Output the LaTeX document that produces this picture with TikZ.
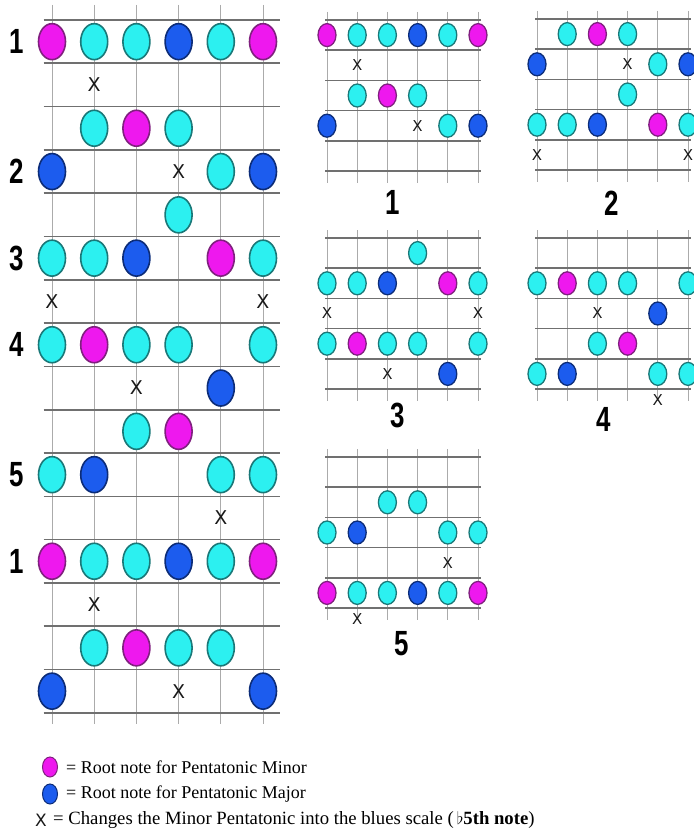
\documentclass[tikz,border=0pt]{standalone}
\usepackage{fontspec}
\setmainfont{Liberation Serif}
\newfontfamily\numfont[FakeStretch=0.74]{Liberation Sans}
\newfontfamily\xfont{DejaVu Sans}
\usetikzlibrary{shapes.geometric}

\definecolor{notecyan}{HTML}{2CF0F0}
\definecolor{cyanedge}{HTML}{1A7878}
\definecolor{notemag}{HTML}{EE18EE}
\definecolor{magedge}{HTML}{80207F}
\definecolor{noteblue}{HTML}{1C5CEE}
\definecolor{blueedge}{HTML}{0C2C78}
\definecolor{fretgray}{HTML}{707070}
\definecolor{stringgray}{HTML}{ABABAB}

\tikzset{
  fret/.style={fretgray, line width=1.6pt},
  string/.style={stringgray, line width=0.8pt},
  note/.style={ellipse, inner sep=0pt, line width=1.6pt},
  bignote/.style={note, minimum width=27pt, minimum height=36pt},
  smallnote/.style={note, minimum width=18pt, minimum height=23pt, line width=1.3pt},
  keynote/.style={note, minimum width=15pt, minimum height=20pt, line width=1pt},
  cy/.style={fill=notecyan, draw=cyanedge},
  mg/.style={fill=notemag, draw=magedge},
  bl/.style={fill=noteblue, draw=blueedge},
  bigx/.style={font=\xfont\fontsize{19}{19}\selectfont, text=black!90, inner sep=0pt},
  smallx/.style={font=\xfont\fontsize{15}{15}\selectfont, text=black!90, inner sep=0pt},
  numlbl/.style={font=\numfont\bfseries\fontsize{35}{35}\selectfont, inner sep=0pt},
  keytxt/.style={font=\fontsize{18}{18}\selectfont, anchor=west, inner sep=0pt}
}

\begin{document}
\begin{tikzpicture}[x=1pt, y=-1pt]
  \fill[white] (0,0) rectangle (693,837);
  \useasboundingbox (0,0) rectangle (693,837);

  % 大图
  \begin{scope}[shift={(9.8,20)}, x=42.2pt, y=-43.3pt]
    \foreach \c in {1,...,6} \draw[string] (\c,-0.35) -- (\c,16.25);
    \foreach \k in {0,...,16} \draw[fret] (0.8,\k) -- (6.4,\k);
    % 把位编号
    \foreach \r/\t in {0/1, 3/2, 5/3, 7/4, 10/5, 12/1}
      \node[numlbl] (pos-\r) at (0.17,\r+0.5) {\t};
    % 音符
    \foreach \c/\r in {2/0,3/0,5/0,2/2,4/2,5/3,4/4,1/5,2/5,6/5,1/7,3/7,4/7,6/7,3/9,1/10,5/10,6/10,2/12,3/12,5/12,2/14,4/14,5/14}
      \node[bignote, cy] (bc-\c-\r) at (\c,\r+0.5) {};
    \foreach \c/\r in {1/0,6/0,3/2,5/5,2/7,4/9,1/12,6/12,3/14}
      \node[bignote, mg] (bm-\c-\r) at (\c,\r+0.5) {};
    \foreach \c/\r in {4/0,1/3,6/3,3/5,5/8,2/10,4/12,1/15,6/15}
      \node[bignote, bl] (bb-\c-\r) at (\c,\r+0.5) {};
    \foreach \c/\r in {2/1,4/3,1/6,6/6,3/8,5/11,2/13,4/15}
      \node[bigx] (bx-\c-\r) at (\c,\r+0.5) {X};
  \end{scope}

  % 小图的网格
  \foreach \gx/\gy in {327/20, 537/19, 327/238, 537/238, 327/457} {
    \foreach \c in {0,...,5} \draw[string] (\gx+\c*30.2,\gy-8) -- (\gx+\c*30.2,\gy+163);
    \foreach \k in {0,...,5} \draw[fret] (\gx-2,\gy+\k*30.2) -- (\gx+154,\gy+\k*30.2);
  }

  % 小图 1
  \begin{scope}[shift={(296.8,20)}, x=30.2pt, y=-30.2pt]
    \foreach \c/\r in {2/0,3/0,5/0,2/2,4/2,5/3}
      \node[smallnote, cy] (ac-\c-\r) at (\c,\r+0.5) {};
    \foreach \c/\r in {1/0,6/0,3/2}
      \node[smallnote, mg] (am-\c-\r) at (\c,\r+0.5) {};
    \foreach \c/\r in {4/0,1/3,6/3}
      \node[smallnote, bl] (ab-\c-\r) at (\c,\r+0.5) {};
    \foreach \c/\r in {2/1,4/3}
      \node[smallx] (ax-\c-\r) at (\c,\r+0.5) {X};
  \end{scope}
  \node[numlbl] (box-1) at (393,202) {1};

  % 小图 2
  \begin{scope}[shift={(506.8,19)}, x=30.2pt, y=-30.2pt]
    \foreach \c/\r in {2/0,4/0,5/1,4/2,1/3,2/3,6/3}
      \node[smallnote, cy] (cc-\c-\r) at (\c,\r+0.5) {};
    \foreach \c/\r in {3/0,5/3}
      \node[smallnote, mg] (cm-\c-\r) at (\c,\r+0.5) {};
    \foreach \c/\r in {1/1,6/1,3/3}
      \node[smallnote, bl] (cb-\c-\r) at (\c,\r+0.5) {};
    \foreach \c/\r in {4/1,1/4,6/4}
      \node[smallx] (cx-\c-\r) at (\c,\r+0.5) {X};
  \end{scope}
  \node[numlbl] (box-2) at (612,203) {2};

  % 小图 3
  \begin{scope}[shift={(296.8,238)}, x=30.2pt, y=-30.2pt]
    \foreach \c/\r in {4/0,1/1,2/1,6/1,1/3,3/3,4/3,6/3}
      \node[smallnote, cy] (dc-\c-\r) at (\c,\r+0.5) {};
    \foreach \c/\r in {5/1,2/3}
      \node[smallnote, mg] (dm-\c-\r) at (\c,\r+0.5) {};
    \foreach \c/\r in {3/1,5/4}
      \node[smallnote, bl] (db-\c-\r) at (\c,\r+0.5) {};
    \foreach \c/\r in {1/2,6/2,3/4}
      \node[smallx] (dx-\c-\r) at (\c,\r+0.5) {X};
  \end{scope}
  \node[numlbl] (box-3) at (398,415) {3};

  % 小图 4
  \begin{scope}[shift={(506.8,238)}, x=30.2pt, y=-30.2pt]
    \foreach \c/\r in {1/1,3/1,4/1,6/1,3/3,1/4,5/4,6/4}
      \node[smallnote, cy] (ec-\c-\r) at (\c,\r+0.5) {};
    \foreach \c/\r in {2/1,4/3}
      \node[smallnote, mg] (em-\c-\r) at (\c,\r+0.5) {};
    \foreach \c/\r in {5/2,2/4}
      \node[smallnote, bl] (eb-\c-\r) at (\c,\r+0.5) {};
    \foreach \c/\r in {3/2}
      \node[smallx] (ex-\c-\r) at (\c,\r+0.5) {X};
    \node[smallx] (ex-5-5) at (5,5.35) {X};
  \end{scope}
  \node[numlbl] (box-4) at (604,419) {4};

  % 小图 5
  \begin{scope}[shift={(296.8,457)}, x=30.2pt, y=-30.2pt]
    \foreach \c/\r in {3/1,4/1,1/2,5/2,6/2,2/4,3/4,5/4}
      \node[smallnote, cy] (fc-\c-\r) at (\c,\r+0.5) {};
    \foreach \c/\r in {1/4,6/4}
      \node[smallnote, mg] (fm-\c-\r) at (\c,\r+0.5) {};
    \foreach \c/\r in {2/2,4/4}
      \node[smallnote, bl] (fb-\c-\r) at (\c,\r+0.5) {};
    \foreach \c/\r in {5/3}
      \node[smallx] (fx-\c-\r) at (\c,\r+0.5) {X};
    \node[smallx] (fx-2-5) at (2,5.35) {X};
  \end{scope}
  \node[numlbl] (box-5) at (402,644) {5};

  % 图例
  \node[keynote, mg] (keymin) at (50,767) {};
  \node[keytxt] (keymintxt) at (66,767) {= Root note for Pentatonic Minor};
  \node[keynote, bl] (keymaj) at (50,794) {};
  \node[keytxt] (keymajtxt) at (66,794) {= Root note for Pentatonic Major};
  \node[bigx, font=\xfont\fontsize{17}{17}\selectfont] (keyx) at (41,820) {X};
  \node[keytxt, font=\fontsize{18.7}{18.7}\selectfont] (keyxtxt) at (53,820) {= Changes the Minor Pentatonic into the blues scale (\,$\flat$\textbf{5th note})};
\end{tikzpicture}
\end{document}
